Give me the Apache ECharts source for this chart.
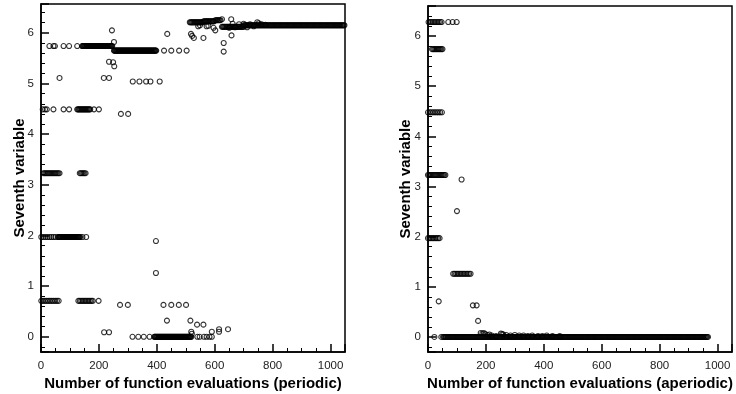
<!DOCTYPE html>
<html>
<head>
<meta charset="utf-8">
<script src="https://cdn.jsdelivr.net/npm/echarts@6/dist/echarts.min.js"></script>
<style>
html,body{margin:0;padding:0;background:#fff}
#chart{width:736px;height:394px}
</style>
</head>
<body>
<div id="chart"></div>
<script>
// periodic case: single evaluations [evaluation, value]
var periodicPoints = [
  [29,5.74],[43,5.74],[48,5.74],[78,5.74],[97,5.74],[125,5.74],
  [245,6.05],[252,5.82],
  [425,5.65],[450,5.65],[477,5.65],[503,5.65],
  [235,5.43],[249,5.42],[253,5.34],
  [64,5.11],[217,5.11],[235,5.11],
  [317,5.04],[340,5.04],[363,5.04],[378,5.04],[410,5.04],
  [6,4.49],[14,4.49],[20,4.49],[43,4.49],[78,4.49],[97,4.49],[183,4.49],[200,4.49],
  [276,4.40],[301,4.40],
  [143,1.97],[156,1.97],
  [397,1.89],[397,1.26],
  [199,0.71],
  [273,0.63],[300,0.63],[423,0.63],[450,0.63],[476,0.63],[501,0.63],
  [435,0.32],[516,0.32],[539,0.24],[561,0.24],
  [218,0.09],[235,0.09],
  [316,0],[336,0],[355,0],[375,0],
  [519,0.10],[521,0.06],
  [540,0],[548,0],[563,0],[572,0],[582,0],[590,0],
  [590,0.10],[615,0.10],[615,0.15],[646,0.15],
  [436,5.98],[518,5.98],[522,5.94],[528,5.90],[561,5.90],[631,5.80],[631,5.63],[658,5.95],
  [543,6.13],[549,6.15],[572,6.13],[578,6.14],[596,6.10],[602,6.05],
  [625,6.27],[657,6.27],
  [650,6.10],[662,6.18],[670,6.11],[684,6.17],[700,6.18],[712,6.11],[722,6.17],
  [735,6.13],[747,6.21],[752,6.19],[762,6.17],[775,6.16]
];
// periodic case: runs of evaluations at one value [first, last, step, value]
var periodicRuns = [
  [142,247,2,5.74],
  [252,398,2,5.65],
  [125,172,3,4.49],
  [8,64,4,3.23],
  [134,157,4,3.23],
  [1,53,7,1.97],
  [59,135,2,1.97],
  [1,65,6,0.71],
  [129,182,5,0.71],
  [391,519,2,0],
  [514,560,3,6.21],
  [562,600,3,6.23],
  [602,622,3,6.25],
  [625,700,3,6.12],
  [700,1050,3,6.15]
];

// aperiodic case
var aperiodicPoints = [
  [70,6.28],[85,6.28],[99,6.28],
  [116,3.14],[100,2.51],
  [37,0.71],[155,0.63],[168,0.63],[173,0.32],
  [182,0.08],[188,0.07],[193,0.08],[198,0.06],[205,0.04],[212,0.05],
  [252,0.07],[256,0.06],[260,0.05],
  [22,0],[46,0],
  [220,0.03],[235,0.02],[270,0.04],[285,0.03],[300,0.04],[315,0.03],[330,0.03],
  [345,0.02],[360,0.03],[380,0.02],[395,0.02],[410,0.03],[430,0.02],[455,0.02]
];
var aperiodicRuns = [
  [2,47,5,6.28],
  [14,52,4,5.74],
  [0,50,6,4.48],
  [0,60,4,3.23],
  [0,41,5,1.97],
  [87,147,5,1.26],
  [52,968,3,0]
];

var xTitles = ['Number of function evaluations (periodic)', 'Number of function evaluations (aperiodic)'];
var yTitle = 'Seventh variable';

function toPoints(points, runs) {
  var out = points.slice();
  runs.forEach(function (r) {
    for (var x = r[0]; x <= r[1]; x += r[2]) out.push([x, r[3]]);
  });
  return out;
}

var font = 'Liberation Sans, Arial, Helvetica, sans-serif';

function xAxisOf(i) {
  return {
    gridIndex: i, type: 'value', min: 0, max: 1050, interval: 200,
    name: xTitles[i], nameLocation: 'middle', nameGap: 24, nameMoveOverlap: false,
    nameTextStyle: {color: '#000', fontWeight: 'bold', fontSize: 15, fontFamily: font},
    axisLine: {onZero: false, lineStyle: {color: '#000', width: 1.5}},
    axisTick: {inside: true, length: 8, lineStyle: {color: '#000', width: 1.5}},
    minorTick: {show: true, splitNumber: 4, length: 4, lineStyle: {color: '#000', width: 1}},
    axisLabel: {color: '#222', fontSize: 11.5, fontFamily: font, margin: 8, showMaxLabel: false,
      formatter: function (v) { return String(v); }},
    splitLine: {show: false}
  };
}

function yAxisOf(i, max, gap) {
  return {
    gridIndex: i, type: 'value', min: -0.3, max: max,
    name: yTitle, nameLocation: 'middle', nameGap: gap, nameRotate: 90, nameMoveOverlap: false,
    nameTextStyle: {color: '#000', fontWeight: 'bold', fontSize: 15, fontFamily: font},
    axisLine: {onZero: false, lineStyle: {color: '#000', width: 1.5}},
    axisTick: {inside: true, length: 8, lineStyle: {color: '#000', width: 1.5}},
    minorTick: {show: true, splitNumber: 5, length: 4, lineStyle: {color: '#000', width: 1}},
    axisLabel: {color: '#222', fontSize: 11.5, fontFamily: font, margin: 7, showMinLabel: false, showMaxLabel: false},
    splitLine: {show: false}
  };
}

function seriesOf(i, data) {
  return {
    type: 'scatter', xAxisIndex: i, yAxisIndex: i, data: data,
    symbol: 'circle', symbolSize: 5,
    itemStyle: {color: 'rgba(0,0,0,0)', borderColor: '#000', borderWidth: 1.1},
    emphasis: {disabled: true}
  };
}

var myChart = echarts.init(document.getElementById('chart'));
var option = {
  animation: false,
  backgroundColor: '#fff',
  grid: [
    {left: 41, top: 4, width: 304, height: 348, show: true, borderColor: '#000', borderWidth: 1.5, outerBoundsMode: 'none'},
    {left: 428, top: 6, width: 304, height: 346, show: true, borderColor: '#000', borderWidth: 1.5, outerBoundsMode: 'none'}
  ],
  xAxis: [xAxisOf(0), xAxisOf(1)],
  yAxis: [yAxisOf(0, 6.57, 14), yAxisOf(1, 6.6, 15)],
  series: [
    seriesOf(0, toPoints(periodicPoints, periodicRuns)),
    seriesOf(1, toPoints(aperiodicPoints, aperiodicRuns))
  ]
};
myChart.setOption(option);
</script>
</body>
</html>
